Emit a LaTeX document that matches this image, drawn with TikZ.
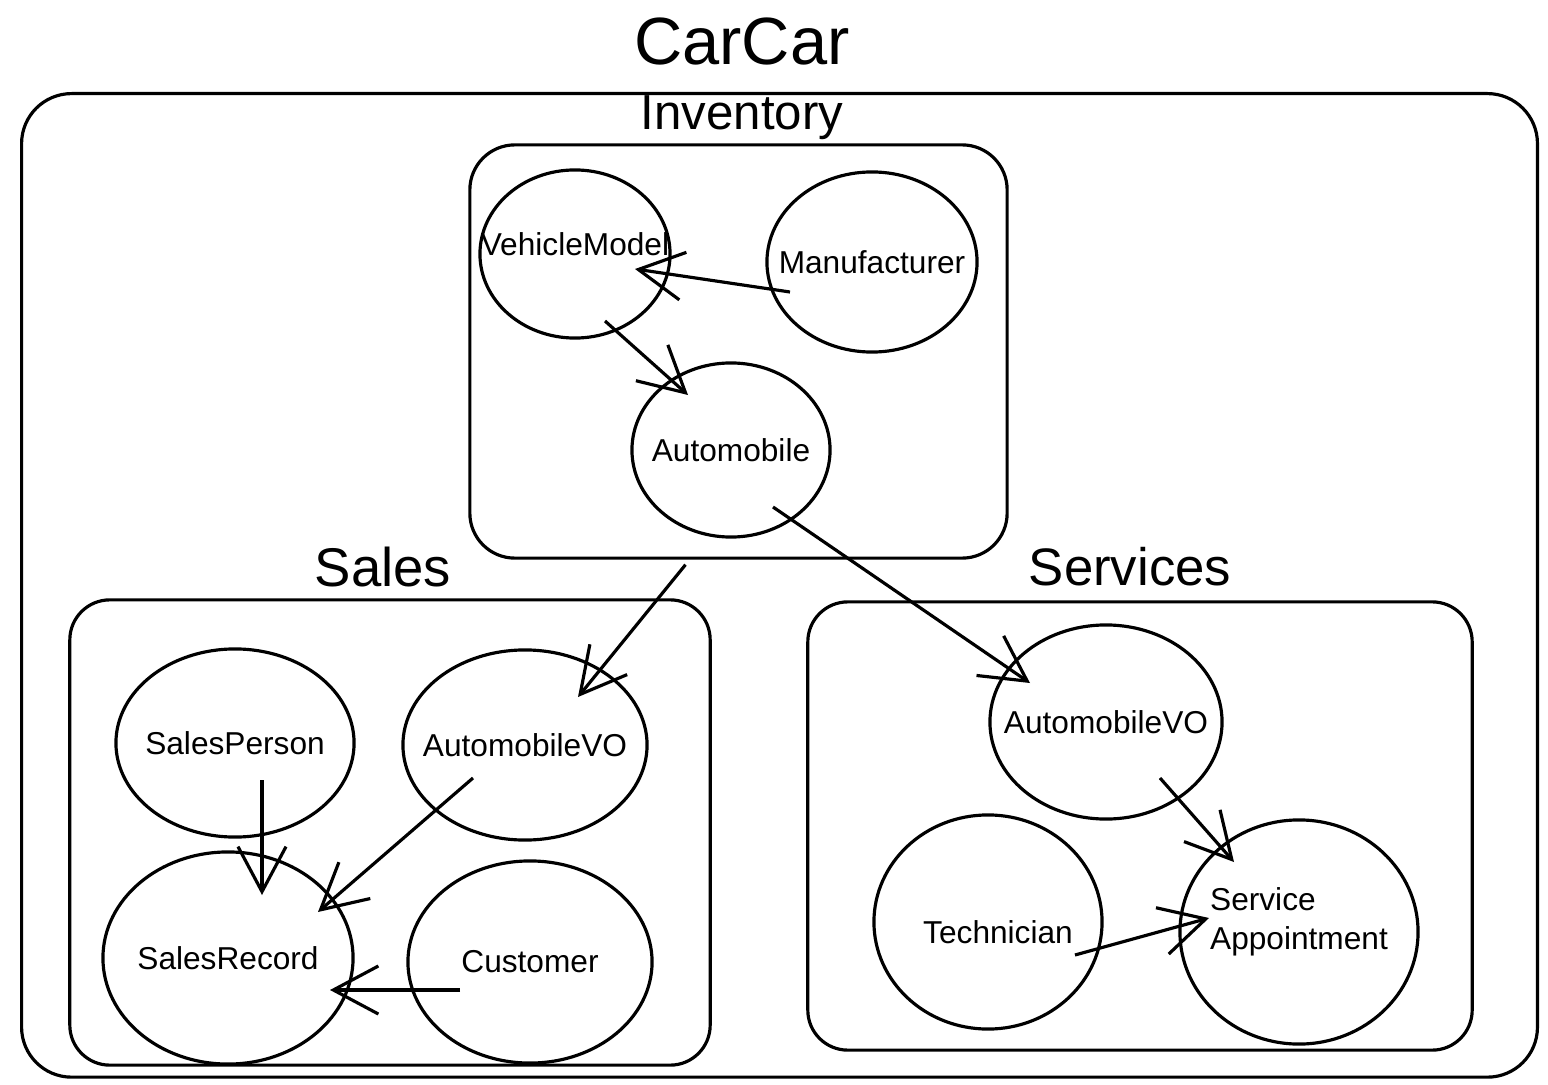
\documentclass[tikz,border=0pt]{standalone}
\usepackage{fontspec}
\setmainfont{Liberation Sans}
\usetikzlibrary{arrows.meta,shapes.geometric,calc}
\tikzstyle{entity} = [ellipse, draw=black, line width=0.9pt, inner sep=0pt]
\tikzstyle{group} = [rectangle, draw=black, line width=0.9pt, rounded corners=0.45cm]
\tikzstyle{title} = [font=\fontsize{15}{18}\selectfont]
\tikzstyle{arrow} = [line width=0.9pt, -{Straight Barb[length=4.5mm, width=4.8mm, line width=0.9pt]}]

\begin{document}
\begin{tikzpicture}[x=0.01cm, y=-0.01cm, every label/.style={font=\fontsize{9}{11}\selectfont, inner sep=0pt}]
\useasboundingbox (0,0) rectangle (1548,1085);
% groups
\node (carcar) at (20,92) [group, anchor=north west, minimum width=15.15cm, minimum height=9.83cm, rounded corners=0.5cm] {};
\node (inv) at (738.5,351.5) [group, minimum width=5.37cm, minimum height=4.13cm] {};
\node (sales) at (390,832.5) [group, minimum width=6.40cm, minimum height=4.65cm, rounded corners=0.4cm] {};
\node (serv) at (1140,826) [group, minimum width=6.64cm, minimum height=4.48cm, rounded corners=0.4cm] {};
% labels
\node (t) at (742,42) [font=\fontsize{19}{22}\selectfont] {CarCar};
\node (tinv) at (742,118) [title, font=\fontsize{14}{17}\selectfont] {Inventory};
\node (tsales) at (383,567) [title, font=\fontsize{15.5}{18}\selectfont] {Sales};
\node (tserv) at (1130,567) [title] {Services};
% inventory
\draw (575,254) node (vm) [entity, minimum width=1.90cm, minimum height=1.68cm, label={[yshift=0.1cm]center:VehicleModel}] {};
\draw (872,262) node (manu) [entity, minimum width=2.10cm, minimum height=1.80cm, label={center:Manufacturer}] {};
\draw (731,450) node (auto) [entity, minimum width=1.98cm, minimum height=1.74cm, label={center:Automobile}] {};
% sales
\draw (235,743) node (sp) [entity, minimum width=2.38cm, minimum height=1.88cm, label={center:SalesPerson}] {};
\draw (525,745) node (savo) [entity, minimum width=2.44cm, minimum height=1.90cm, label={center:AutomobileVO}] {};
\draw (228,958) node (sr) [entity, minimum width=2.50cm, minimum height=2.12cm, label={center:SalesRecord}] {};
\draw (530,962) node (cust) [entity, minimum width=2.44cm, minimum height=2.02cm, label={center:Customer}] {};
% services
\draw (1106,722) node (svo) [entity, minimum width=2.32cm, minimum height=1.94cm, label={center:AutomobileVO}] {};
\draw (988,922) node (tech) [entity, minimum width=2.28cm, minimum height=2.14cm, label={[shift={(0.1cm,-0.1cm)}]center:Technician}] {};
\draw (1299,932) node (appt) [entity, minimum width=2.38cm, minimum height=2.24cm, label={[align=left, yshift=0.1cm]center:{Service\\Appointment}}] {};
% relations
\draw[arrow] ([shift={(-82,30)}]manu.center) -- ([shift={(60,15)}]vm.center);
\draw[arrow] ([shift={(30,67)}]vm.center) -- ([shift={(-43,-55)}]auto.center);
\draw[arrow] ([shift={(-53,5)}]inv.south) -- ([shift={(53,-48)}]savo.center);
\draw[arrow] ([shift={(42,57)}]auto.center) -- ([shift={(-76,-39)}]svo.center);
\draw[arrow] ([shift={(27,37)}]sp.center) -- ([shift={(34,-63)}]sr.center);
\draw[arrow] ([shift={(-52,33)}]savo.center) -- ([shift={(90,-46)}]sr.center);
\draw[arrow] ([shift={(-70,28)}]cust.center) -- ([shift={(102,32)}]sr.center);
\draw[arrow] ([shift={(54,56)}]svo.center) -- ([shift={(-65,-70)}]appt.center);
\draw[arrow] ([shift={(87,33)}]tech.center) -- ([shift={(-90,-14)}]appt.center);
\end{tikzpicture}
\end{document}
